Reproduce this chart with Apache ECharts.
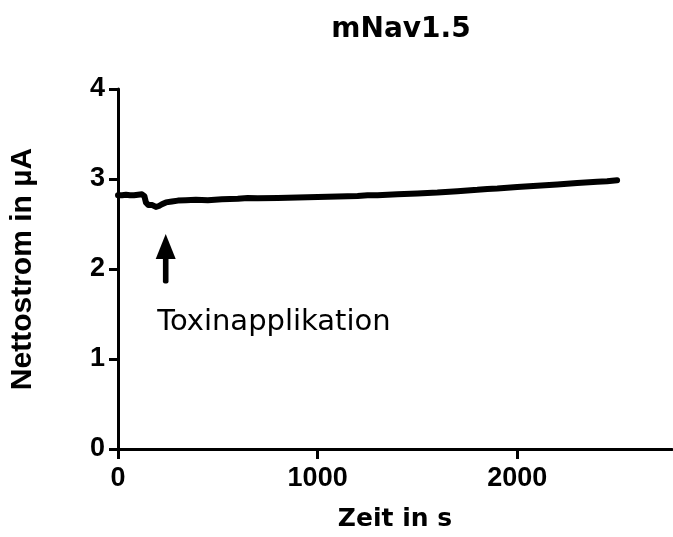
<!DOCTYPE html>
<html>
<head>
<meta charset="utf-8">
<script src="https://cdn.jsdelivr.net/npm/echarts@6/dist/echarts.min.js"></script>
<style>
html,body{margin:0;padding:0;background:#fff;}
#chart{width:673px;height:537px;}
</style>
</head>
<body>
<div id="chart"></div>
<script>
// Data
var timeS = [0, 20, 40, 60, 80, 100, 120, 132, 140, 152, 162, 172, 180, 190, 205, 220, 240, 270, 300, 340, 390, 450, 520, 600, 650, 700, 800, 900, 1000, 1100, 1200, 1250, 1300, 1400, 1500, 1600, 1700, 1800, 1850, 1900, 2000, 2100, 2200, 2300, 2400, 2450, 2500];
var currentUA = [2.82, 2.82, 2.825, 2.82, 2.82, 2.825, 2.83, 2.81, 2.74, 2.71, 2.73, 2.71, 2.70, 2.69, 2.70, 2.72, 2.74, 2.75, 2.76, 2.765, 2.77, 2.765, 2.775, 2.78, 2.79, 2.785, 2.79, 2.795, 2.80, 2.805, 2.812, 2.82, 2.82, 2.83, 2.84, 2.85, 2.865, 2.88, 2.89, 2.895, 2.91, 2.925, 2.94, 2.955, 2.97, 2.975, 2.985];
var xTicks = [0, 1000, 2000];
var yTicks = [0, 1, 2, 3, 4];
var arrowTime = [239];
var arrowTip = [2.39];
var arrowTail = [1.84];
var annotationText = ['Toxinapplikation'];
var annotationPos = [[196, 1.41]];
var titleText = 'mNav1.5';
var xName = 'Zeit in s';
var yName = 'Nettostrom in µA';

var chart = echarts.init(document.getElementById('chart'));
var lineData = timeS.map(function (t, i) { return [t, currentUA[i]]; });
var arrowData = arrowTime.map(function (t, i) { return [t, arrowTip[i], arrowTail[i]]; });

chart.setOption({
  animation: false,
  backgroundColor: '#fff',
  title: {
    text: titleText,
    left: 396,
    top: 11,
    textAlign: 'center',
    textStyle: { fontFamily: 'DejaVu Sans', fontWeight: 'bold', fontSize: 28, color: '#000' }
  },
  grid: { left: 117, top: 89, width: 555, height: 366, containLabel: false },
  xAxis: {
    type: 'value',
    min: 0, max: 2775, interval: 1000,
    name: xName,
    nameLocation: 'middle',
    nameGap: 58,
    nameTextStyle: { fontFamily: 'DejaVu Sans', fontWeight: 'bold', fontSize: 25, color: '#000' },
    axisLine: { show: true, lineStyle: { color: '#000', width: 3 } },
    axisTick: { show: true, length: 10, lineStyle: { color: '#000', width: 3 } },
    axisLabel: {
      margin: 16, showMaxLabel: false,
      fontFamily: 'Liberation Sans', fontWeight: 'bold', fontSize: 27, color: '#000',
      formatter: function (v) { return xTicks.indexOf(v) >= 0 ? String(v) : ''; }
    },
    splitLine: { show: false }
  },
  yAxis: {
    type: 'value',
    min: 0, max: 4, interval: 1,
    name: yName,
    nameLocation: 'middle',
    nameGap: 80,
    nameRotate: 90,
    nameTextStyle: { fontFamily: 'Liberation Sans', fontWeight: 'bold', fontSize: 30, color: '#000' },
    axisLine: { show: true, lineStyle: { color: '#000', width: 3 } },
    axisTick: { show: true, length: 9, lineStyle: { color: '#000', width: 3 } },
    axisLabel: {
      margin: 13,
      fontFamily: 'Liberation Sans', fontWeight: 'bold', fontSize: 27, color: '#000',
      formatter: function (v) { return yTicks.indexOf(v) >= 0 ? String(v) : ''; }
    },
    splitLine: { show: false }
  },
  series: [
    {
      type: 'line',
      data: lineData,
      showSymbol: false,
      symbol: 'none',
      lineStyle: { color: '#000', width: 6, join: 'round', cap: 'round' },
      z: 3
    },
    {
      type: 'custom',
      data: arrowData,
      renderItem: function (params, api) {
        var tip = api.coord([api.value(0), api.value(1)]);
        var tail = api.coord([api.value(0), api.value(2)]);
        var headLen = 25, headHalf = 10, shaftHalf = 2.8;
        var idx = params.dataIndex;
        var pos = annotationPos[idx];
        var tp = api.coord(pos);
        return {
          type: 'group',
          children: [
            {
              type: 'rect',
              shape: { x: tip[0] - shaftHalf, y: tip[1] + headLen - 2, width: shaftHalf * 2, height: tail[1] - tip[1] - headLen + 2, r: 2 },
              style: { fill: '#000' }
            },
            {
              type: 'polygon',
              shape: { points: [[tip[0], tip[1]], [tip[0] + headHalf, tip[1] + headLen], [tip[0] - headHalf, tip[1] + headLen]] },
              style: { fill: '#000' }
            },
            {
              type: 'text',
              x: tp[0], y: tp[1],
              style: {
                text: annotationText[idx],
                fontFamily: 'DejaVu Sans', fontSize: 29, fill: '#000',
                align: 'left', verticalAlign: 'middle'
              }
            }
          ]
        };
      },
      z: 4
    }
  ]
});
</script>
</body>
</html>
